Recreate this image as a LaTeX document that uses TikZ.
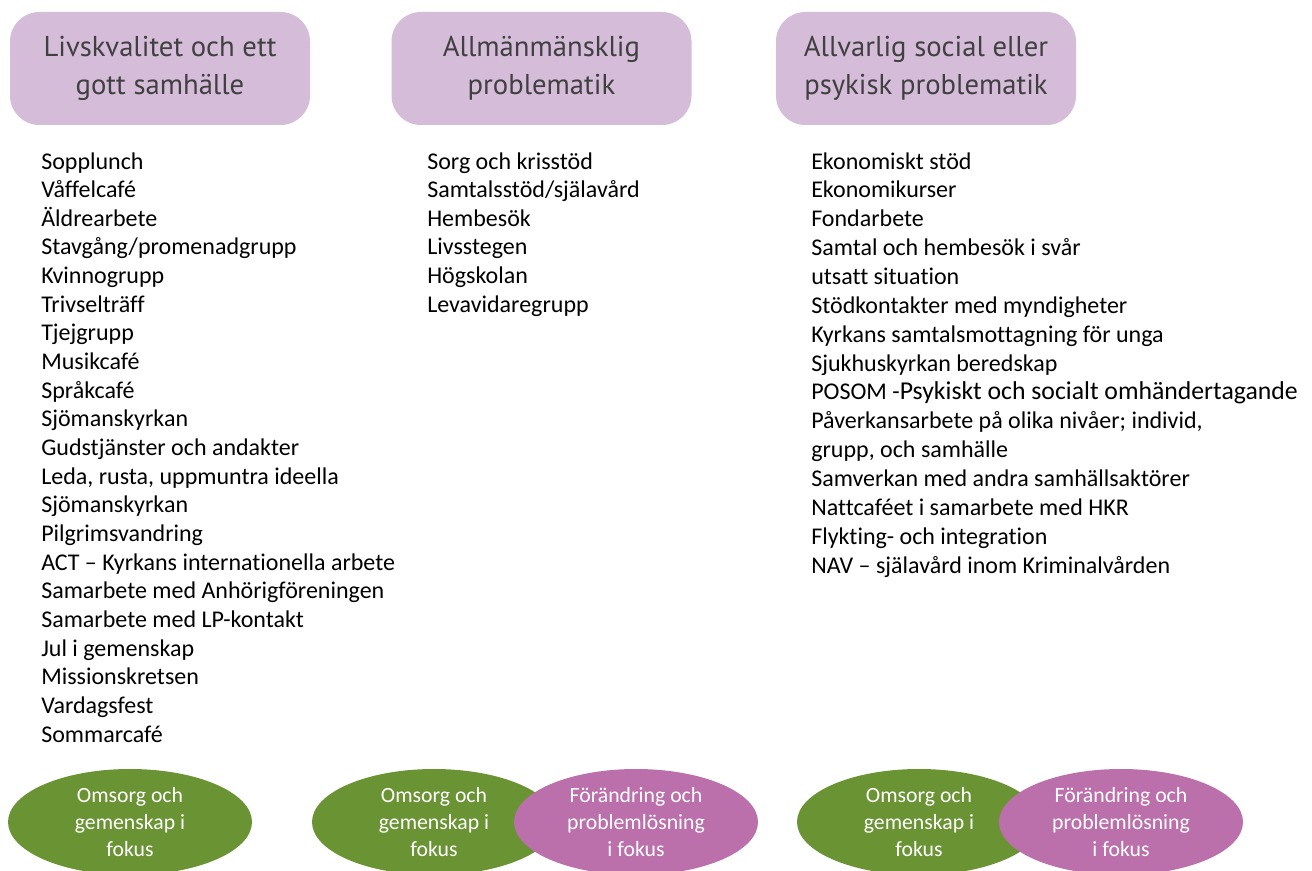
\documentclass[tikz,border=0pt]{standalone}
\usepackage{fontspec}
\setmainfont[Ligatures=NoCommon]{Carlito}
\newfontfamily\headfont{PT Sans}
\usetikzlibrary{shapes.geometric}
\definecolor{headfill}{HTML}{D5BDDA}
\definecolor{headtext}{HTML}{404040}
\definecolor{focgreen}{HTML}{6A9434}
\definecolor{focpink}{HTML}{BB70AB}
\tikzset{
  headbox/.style={fill=headfill, rounded corners=22pt, minimum width=300*0.75pt, minimum height=113*0.75pt, inner sep=0pt, align=center, text=headtext, font=\headfont\fontsize{21.5}{28.5}\selectfont},
  item/.style={anchor=base west, inner sep=0pt, font=\fontsize{18}{21.5}\selectfont},
  green ell/.style={ellipse, fill=focgreen, minimum width=244*0.75pt, minimum height=106*0.75pt, inner sep=0pt, align=center, text=white, font=\fontsize{16.3}{20.3}\selectfont},
  pink ell/.style={green ell, fill=focpink},
}
\begin{document}
\begin{tikzpicture}[x=0.75pt, y=-0.75pt]
\useasboundingbox (0,0) rectangle (1312,870);
\fill[white] (0,0) rectangle (1312,870);

\node[headbox] (h1) at (160,68.5) {Livskvalitet och ett\\gott samhälle};
\node[headbox] (h2) at (541.5,68.5) {Allmänmänsklig\\problematik};
\node[headbox] (h3) at (926,68.5) {Allvarlig social eller\\psykisk problematik};

\foreach \t [count=\i] in {Sopplunch, Våffelcafé, Äldrearbete, Stavgång/promenadgrupp, Kvinnogrupp, Trivselträff, Tjejgrupp, Musikcafé, Språkcafé, Sjömanskyrkan, Gudstjänster och andakter, {Leda, rusta, uppmuntra ideella}, Sjömanskyrkan, Pilgrimsvandring, ACT – Kyrkans internationella arbete, Samarbete med Anhörigföreningen, Samarbete med LP-kontakt, Jul i gemenskap, Missionskretsen, Vardagsfest, Sommarcafé}
  \node[item] (a\i) at (41,{169+(\i-1)*28.65}) {\t};

\foreach \t [count=\i] in {Sorg och krisstöd, Samtalsstöd/själavård, Hembesök, Livsstegen, Högskolan, Levavidaregrupp}
  \node[item] (b\i) at (427,{169+(\i-1)*28.65}) {\t};

\foreach \t [count=\i] in {Ekonomiskt stöd, Ekonomikurser, Fondarbete, Samtal och hembesök i svår, utsatt situation, Stödkontakter med myndigheter, Kyrkans samtalsmottagning för unga, Sjukhuskyrkan beredskap, {POSOM -{\fontsize{19.3}{21.5}\selectfont Psykiskt och socialt omhändertagande}}, {Påverkansarbete på olika nivåer; individ,}, {grupp, och samhälle}, Samverkan med andra samhällsaktörer, Nattcaféet i samarbete med HKR, Flykting- och integration, NAV – själavård inom Kriminalvården}
  \node[item] (c\i) at (811,{169+(\i-1)*28.86}) {\t};

\node[green ell] (g1) at (130,822) {Omsorg och\\gemenskap i\\fokus};
\node[green ell] (g2) at (434,822) {Omsorg och\\gemenskap i\\fokus};
\node[pink ell] (p2) at (636,822) {Förändring och\\problemlösning\\i fokus};
\node[green ell] (g3) at (919,822) {Omsorg och\\gemenskap i\\fokus};
\node[pink ell] (p3) at (1121,822) {Förändring och\\problemlösning\\i fokus};
\end{tikzpicture}
\end{document}
